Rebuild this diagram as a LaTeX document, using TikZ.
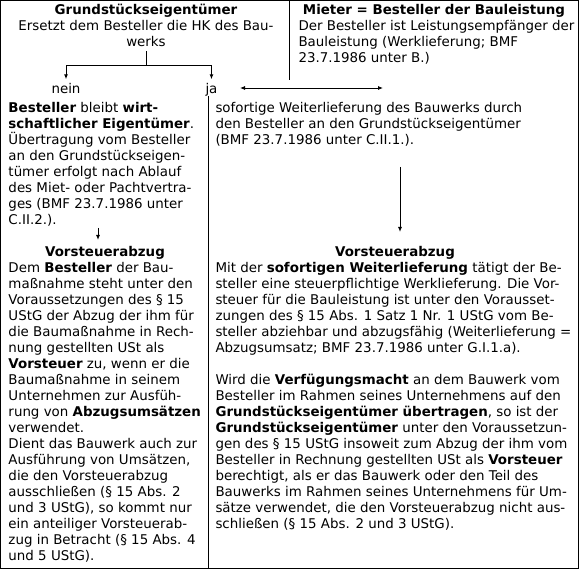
\documentclass[tikz,border=0pt]{standalone}
\usepackage{fontspec}
\setmainfont{DejaVu Sans}
\usetikzlibrary{arrows.meta}

\newcommand{\zl}{\rule{0pt}{13pt}}

\tikzset{
    txt/.style={inner sep=0pt, align=left, anchor=north west, font=\fontsize{13.4}{16}\selectfont},
    kopf/.style={inner sep=0pt, align=center, anchor=north, font=\fontsize{13.4}{16}\selectfont},
    pfeil/.style={-{Latex[length=5pt,width=4pt]}},
    doppelpfeil/.style={{Latex[length=5pt,width=4pt]}-{Latex[length=5pt,width=4pt]}},
}

\begin{document}
\begin{tikzpicture}[x=1pt, y=-1pt, line width=1pt]
        \useasboundingbox (0,0) rectangle (579,569);
        \draw (0.5,0.5) rectangle (578.5,568.5);

        % Kopf links und rechts
        \node[kopf] (eigner) at (146,1) {\zl\textbf{Grundstückseigentümer}\\Ersetzt dem Besteller die HK des Bau-\\werks};
        \node[kopf] (mieter) at (434,1) {\zl\textbf{Mieter = Besteller der Bauleistung}};
        \node[txt] (mietertext) at (298,17) {\zl Der Besteller ist Leistungsempfänger der\\Bauleistung (Werklieferung; BMF\\23.7.1986 unter B.)};
        \draw (289,0.5) -- (289,80);

        % Verzweigung
        \node[inner sep=0pt, anchor=base, font=\fontsize{13.4}{16}\selectfont] (nein) at (66,94) {nein};
        \node[inner sep=0pt, anchor=base west, font=\fontsize{13.4}{16}\selectfont] (ja) at (205,94) {ja};
        \coordinate (split) at (146,66);
        \draw ([yshift=-4pt]eigner.south) -- (split);
        \draw[pfeil] (split) -| ([yshift=4pt]nein.north);
        \draw[pfeil] (split) -| ([yshift=4pt]ja.north);
        \coordinate (mh) at (383,88);
        \draw[doppelpfeil, line width=0.8pt] (240,88) -- (mh);

        % Trennlinie
        \draw (208,96) -- (208,568.5);

        % linke Spalte
        \node[txt] (links1) at (8,99) {\zl\textbf{Besteller} bleibt \textbf{wirt-}\\
            \textbf{schaftlicher Eigentümer}.\\
            Übertragung vom Besteller\\
            an den Grundstückseigen-\\
            tümer erfolgt nach Ablauf\\
            des Miet- oder Pachtvertra-\\
            ges (BMF 23.7.1986 unter\\
            C.II.2.).};
        \node[kopf] (lsteuer) at (105,243) {\zl\textbf{Vorsteuerabzug}};
        \coordinate (la) at (98,228);
        \draw[pfeil] (la) -- ([yshift=3pt]la |- lsteuer.north);
        \node[txt] (links2) at (8,259) {\zl Dem \textbf{Besteller} der Bau-\\
            maßnahme steht unter den\\
            Voraussetzungen des § 15\\
            UStG der Abzug der ihm für\\
            die Baumaßnahme in Rech-\\
            nung gestellten USt als\\
            \textbf{Vorsteuer} zu, wenn er die\\
            Baumaßnahme in seinem\\
            Unternehmen zur Ausfüh-\\
            rung von \textbf{Abzugsumsätzen}\\
            verwendet.\\
            Dient das Bauwerk auch zur\\
            Ausführung von Umsätzen,\\
            die den Vorsteuerabzug\\
            ausschließen (§ 15 Abs. 2\\
            und 3 UStG), so kommt nur\\
            ein anteiliger Vorsteuerab-\\
            zug in Betracht (§ 15 Abs. 4\\
            und 5 UStG).};

        % rechte Spalte
        \node[txt] (rechts1) at (215,99) {\zl sofortige Weiterlieferung des Bauwerks durch\\
            den Besteller an den Grundstückseigentümer\\
            (BMF 23.7.1986 unter C.II.1.).};
        \node[kopf] (rsteuer) at (395,243) {\zl\textbf{Vorsteuerabzug}};
        \coordinate (ra) at (400,167);
        \draw[pfeil] (ra) -- ([yshift=11pt]ra |- rsteuer.north);
        \node[txt] (rechts2) at (215,259) {\zl Mit der \textbf{sofortigen Weiterlieferung} tätigt der Be-\\
            steller eine steuerpflichtige Werklieferung. Die Vor-\\
            steuer für die Bauleistung ist unter den Vorausset-\\
            zungen des § 15 Abs. 1 Satz 1 Nr. 1 UStG vom Be-\\
            steller abziehbar und abzugsfähig (Weiterlieferung =\\
            Abzugsumsatz; BMF 23.7.1986 unter G.I.1.a).\\[16pt]
            Wird die \textbf{Verfügungsmacht} an dem Bauwerk vom\\
            Besteller im Rahmen seines Unternehmens auf den\\
            \textbf{Grundstückseigentümer übertragen}, so ist der\\
            \textbf{Grundstückseigentümer} unter den Voraussetzun-\\
            gen des § 15 UStG insoweit zum Abzug der ihm vom\\
            Besteller in Rechnung gestellten USt als \textbf{Vorsteuer}\\
            berechtigt, als er das Bauwerk oder den Teil des\\
            Bauwerks im Rahmen seines Unternehmens für Um-\\
            sätze verwendet, die den Vorsteuerabzug nicht aus-\\
            schließen (§ 15 Abs. 2 und 3 UStG).};
    \end{tikzpicture}
\end{document}
